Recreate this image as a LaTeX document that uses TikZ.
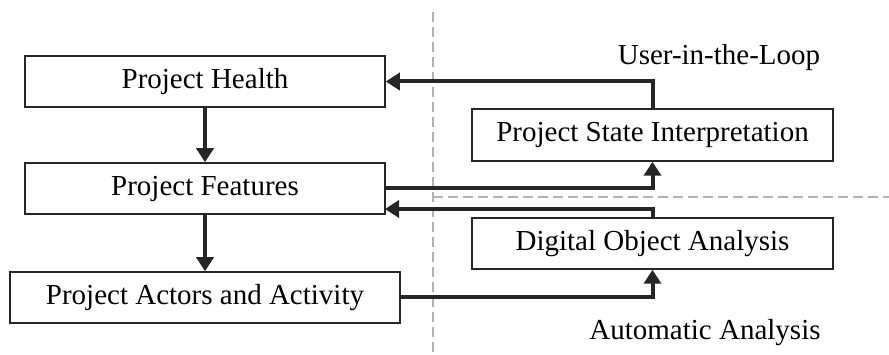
\documentclass[tikz,border=0pt]{standalone}
\usepackage{fontspec}
\setmainfont{Liberation Serif}
\usetikzlibrary{arrows.meta}

\begin{document}
\begin{tikzpicture}[x=1pt,y=-1pt,
	box/.style={draw=black!85,line width=1.5pt,minimum height=51pt,inner sep=0pt,font=\fontsize{29}{34}\selectfont},
	link/.style={draw=black!85,line width=4pt,-{Triangle[width=17pt,length=14pt]}},
	zone/.style={draw=black!30,line width=2.5pt,dash pattern=on 10pt off 5pt},
	lbl/.style={font=\fontsize{29}{34}\selectfont}]
	\useasboundingbox (0,0) rectangle (889,355);

	\node[box,minimum width=360pt] (health) at (205,81.5) {Project Health};
	\node[box,minimum width=360pt] (features) at (205,188.5) {Project Features};
	\node[box,minimum width=390pt] (actors) at (205,297.5) {Project Actors and Activity};
	\node[box,minimum width=361pt,minimum height=52pt] (state) at (652.5,135) {Project State Interpretation};
	\node[box,minimum width=361pt] (digital) at (652.5,243.5) {Digital Object Analysis};

	\node[lbl] (user) at (719,58) {User-in-the-Loop};
	\node[lbl] (auto) at (705,333) {Automatic Analysis};

	\coordinate (ztop) at (433,12);
	\coordinate (zbot) at (433,355);
	\coordinate (zmid) at (433,197);
	\coordinate (zend) at (889,197);
	\coordinate (fin) at (385,209);

	\draw[zone] (ztop) -- (zbot);
	\draw[zone] (zmid) -- (zend);

	\draw[link] (health) -- (features);
	\draw[link] (features) -- (actors);
	\draw[link] (state.north) |- (health.east);
	\draw[link] (features.east) -| (state.south);
	\draw[link] (digital.north) |- (fin);
	\draw[link] (actors.east) -| (digital.south);
\end{tikzpicture}
\end{document}
